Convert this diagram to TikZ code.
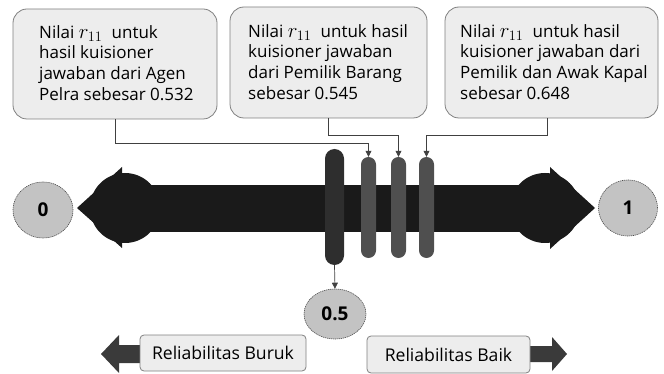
\documentclass[tikz,border=0pt]{standalone}
\usepackage{fontspec}
\setmainfont{Open Sans}
\usetikzlibrary{arrows.meta,shapes.geometric}
\definecolor{barblack}{HTML}{1A1A1A}
\definecolor{pilldark}{HTML}{2E2E2E}
\definecolor{pillmid}{HTML}{4F4F4F}
\definecolor{boxfill}{HTML}{EDEDED}
\definecolor{boxline}{HTML}{808080}
\definecolor{dotfill}{HTML}{C3C3C3}
\definecolor{arrowgray}{HTML}{3A3A3A}
\newcommand{\rcoef}{{\fontsize{20}{20}\selectfont$r_{11}$}}
\tikzset{
  topbox/.style={draw=boxline, fill=boxfill, rounded corners=14pt, line width=0.8pt, inner sep=0pt},
  boxtext/.style={anchor=west, align=left, inner sep=0pt, font=\fontsize{17}{20.7}\selectfont},
  pill/.style={inner sep=0pt, draw=none},
  mark0/.style={ellipse, fill=dotfill, draw=black!70, dash pattern=on 1.2pt off 0.8pt, line width=0.6pt,
    inner sep=0pt, font=\bfseries\fontsize{19}{22}\selectfont},
  leader/.style={draw=black!75, line width=0.7pt, -{Triangle[length=6pt,width=6pt]}},
  labelbox/.style={draw=boxline, fill=boxfill, rounded corners=4pt, line width=0.8pt, inner sep=0pt,
    font=\fontsize{17.6}{20}\selectfont},
}
\begin{document}
\begin{tikzpicture}[x=1pt, y=-1pt]
\useasboundingbox (0,0) rectangle (664,374);

% main scale bar with rounded arrow heads
\fill[barblack] (120,185) rectangle (550,232);
\fill[barblack] (125,208) circle[radius=35];
\fill[barblack] (545,208) circle[radius=35];
\fill[barblack] (77,208) -- (122,167) -- (122,248) -- cycle;
\fill[barblack] (595,208) -- (550,167) -- (550,249) -- cycle;

% markers on the bar
\node[pill, fill=pilldark, rounded corners=9.5pt, minimum width=19pt, minimum height=116pt] (p0) at (334.5,207) {};
\node[pill, fill=pillmid, rounded corners=7.5pt, minimum width=15pt, minimum height=101pt] (p1) at (368.5,207.5) {};
\node[pill, fill=pillmid, rounded corners=7.5pt, minimum width=15pt, minimum height=101pt] (p2) at (398.5,207.5) {};
\node[pill, fill=pillmid, rounded corners=7.5pt, minimum width=15pt, minimum height=101pt] (p3) at (426.5,207.5) {};

% end points of the scale
\node[mark0, minimum width=60pt, minimum height=56pt] (zero) at (43,210) {0};
\node[mark0, minimum width=59pt, minimum height=56pt] (one) at (628,208) {1};
\node[mark0, minimum width=62pt, minimum height=50pt] (half) at (335,314) {0.5};

% value boxes
\node[topbox, minimum width=204pt, minimum height=110pt] (b1) at (115,64) {};
\node[boxtext] (t1) at (39,63) {Nilai \rcoef\; untuk\\hasil kuisioner\\jawaban dari Agen\\Pelra sebesar 0.532};
\node[topbox, minimum width=197pt, minimum height=111pt] (b2) at (328.5,62.5) {};
\node[boxtext] (t2) at (248,62) {Nilai \rcoef\; untuk hasil\\kuisioner jawaban\\dari Pemilik Barang\\sebesar 0.545};
\node[topbox, minimum width=213pt, minimum height=111pt] (b3) at (551.5,62.5) {};
\node[boxtext] (t3) at (460,62) {Nilai \rcoef\; untuk hasil\\kuisioner jawaban dari\\Pemilik dan Awak Kapal\\sebesar 0.648};

% leaders from the boxes to the markers
\draw[leader] (b1.south) |- (368.5,143) -- (p1.north);
\draw[leader] (b2.south) |- (398.5,135) -- (p2.north);
\draw[leader] ([xshift=-4pt]b3.south) |- (426.5,135) -- (p3.north);
\draw[leader] (p0.south) -- (half.north);

% reliability direction labels
\fill[arrowgray] (140,345) -- (119,345) -- (119,335) -- (101,354) -- (119,373) -- (119,363) -- (140,363) -- cycle;
\fill[arrowgray] (528,346) -- (552,346) -- (552,337) -- (567,354) -- (552,371) -- (552,362) -- (528,362) -- cycle;
\node[labelbox, minimum width=166pt, minimum height=36pt] (bad) at (223,353) {Reliabilitas Buruk};
\node[labelbox, minimum width=163pt, minimum height=37pt] (good) at (448.5,354.5) {Reliabilitas Baik};
\end{tikzpicture}
\end{document}
